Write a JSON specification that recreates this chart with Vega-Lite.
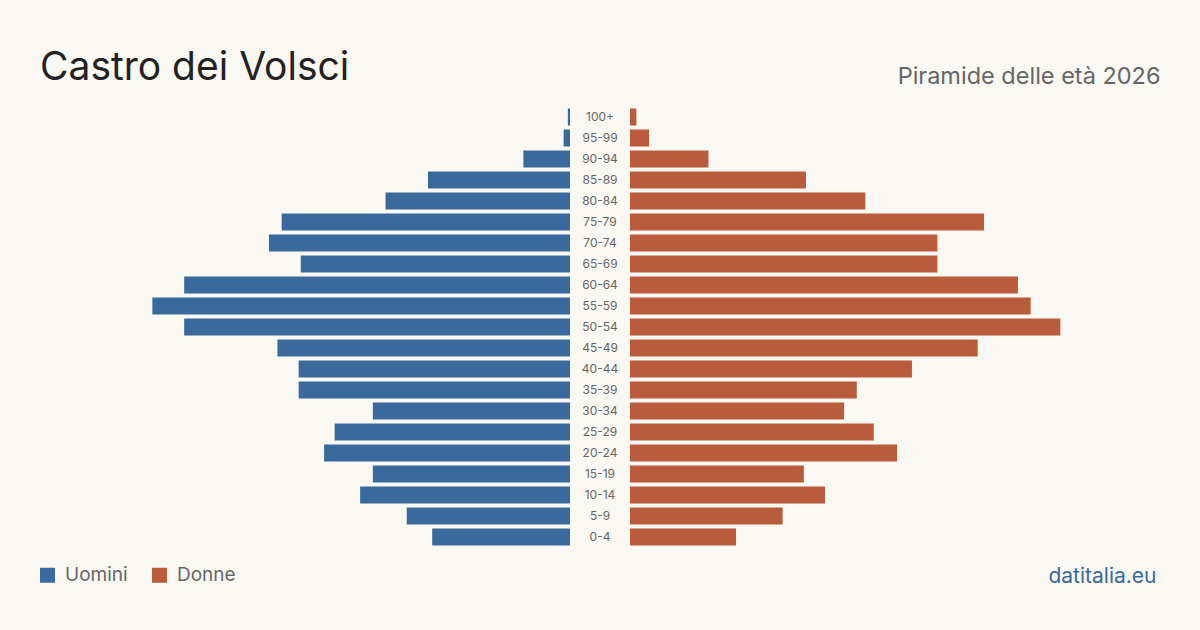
{
  "$schema": "https://vega.github.io/schema/vega-lite/v6.json",
  "width": 1120,
  "height": 441,
  "autosize": {"type": "none"},
  "padding": {"left": 40, "right": 40, "top": 106.5, "bottom": 82.5},
  "background": "#faf8f3",
  "title": {
    "text": "Castro dei Volsci",
    "anchor": "start",
    "frame": "group",
    "fontSize": 39,
    "fontWeight": "normal",
    "color": "#222222",
    "font": "Inter",
    "offset": 0,
    "dy": 23
  },
  "data": {
    "values": [
      {"eta": "100+", "sesso": "Uomini", "n": 1},
      {"eta": "95-99", "sesso": "Uomini", "n": 3},
      {"eta": "90-94", "sesso": "Uomini", "n": 22},
      {"eta": "85-89", "sesso": "Uomini", "n": 67},
      {"eta": "80-84", "sesso": "Uomini", "n": 87},
      {"eta": "75-79", "sesso": "Uomini", "n": 136},
      {"eta": "70-74", "sesso": "Uomini", "n": 142},
      {"eta": "65-69", "sesso": "Uomini", "n": 127},
      {"eta": "60-64", "sesso": "Uomini", "n": 182},
      {"eta": "55-59", "sesso": "Uomini", "n": 197},
      {"eta": "50-54", "sesso": "Uomini", "n": 182},
      {"eta": "45-49", "sesso": "Uomini", "n": 138},
      {"eta": "40-44", "sesso": "Uomini", "n": 128},
      {"eta": "35-39", "sesso": "Uomini", "n": 128},
      {"eta": "30-34", "sesso": "Uomini", "n": 93},
      {"eta": "25-29", "sesso": "Uomini", "n": 111},
      {"eta": "20-24", "sesso": "Uomini", "n": 116},
      {"eta": "15-19", "sesso": "Uomini", "n": 93},
      {"eta": "10-14", "sesso": "Uomini", "n": 99},
      {"eta": "5-9", "sesso": "Uomini", "n": 77},
      {"eta": "0-4", "sesso": "Uomini", "n": 65},
      {"eta": "100+", "sesso": "Donne", "n": 3},
      {"eta": "95-99", "sesso": "Donne", "n": 9},
      {"eta": "90-94", "sesso": "Donne", "n": 37},
      {"eta": "85-89", "sesso": "Donne", "n": 83},
      {"eta": "80-84", "sesso": "Donne", "n": 111},
      {"eta": "75-79", "sesso": "Donne", "n": 167},
      {"eta": "70-74", "sesso": "Donne", "n": 145},
      {"eta": "65-69", "sesso": "Donne", "n": 145},
      {"eta": "60-64", "sesso": "Donne", "n": 183},
      {"eta": "55-59", "sesso": "Donne", "n": 189},
      {"eta": "50-54", "sesso": "Donne", "n": 203},
      {"eta": "45-49", "sesso": "Donne", "n": 164},
      {"eta": "40-44", "sesso": "Donne", "n": 133},
      {"eta": "35-39", "sesso": "Donne", "n": 107},
      {"eta": "30-34", "sesso": "Donne", "n": 101},
      {"eta": "25-29", "sesso": "Donne", "n": 115},
      {"eta": "20-24", "sesso": "Donne", "n": 126},
      {"eta": "15-19", "sesso": "Donne", "n": 82},
      {"eta": "10-14", "sesso": "Donne", "n": 92},
      {"eta": "5-9", "sesso": "Donne", "n": 72},
      {"eta": "0-4", "sesso": "Donne", "n": 50}
    ]
  },
  "encoding": {
    "y": {
      "field": "eta",
      "type": "nominal",
      "sort": ["100+", "95-99", "90-94", "85-89", "80-84", "75-79", "70-74", "65-69", "60-64", "55-59", "50-54", "45-49", "40-44", "35-39", "30-34", "25-29", "20-24", "15-19", "10-14", "5-9", "0-4"],
      "scale": {"paddingInner": 0.19, "paddingOuter": 0.095},
      "axis": null
    }
  },
  "layer": [
    {
      "transform": [{"filter": "datum.sesso === 'Uomini'"}],
      "mark": {"type": "bar"},
      "encoding": {
        "x": {
          "field": "n",
          "type": "quantitative",
          "scale": {"domain": [-278.3, 250], "reverse": true, "nice": false, "zero": false},
          "axis": {
            "orient": "bottom",
            "title": "datitalia.eu",
            "titleAnchor": "start",
            "titleAlign": "right",
            "titleColor": "#3a6a9c",
            "titleFontSize": 21,
            "titleFontWeight": "normal",
            "titleFont": "Inter",
            "titlePadding": 18,
            "titleX": 1116,
            "labels": false,
            "ticks": false,
            "domain": false,
            "grid": false
          }
        },
        "x2": {"datum": 0},
        "color": {
          "field": "sesso",
          "type": "nominal",
          "scale": {"domain": ["Uomini", "Donne"], "range": ["#3a6a9b", "#b95c3b"]},
          "legend": {
            "orient": "none",
            "legendX": -2,
            "legendY": 459,
            "direction": "horizontal",
            "title": null,
            "symbolType": "square",
            "symbolSize": 225,
            "symbolStrokeWidth": 0,
            "symbolOpacity": 1,
            "labelFontSize": 19,
            "labelColor": "#666666",
            "labelFont": "Inter",
            "labelOffset": 8,
            "columnPadding": 22
          }
        }
      }
    },
    {
      "transform": [{"filter": "datum.sesso === 'Donne'"}],
      "mark": {"type": "bar"},
      "encoding": {
        "x": {
          "field": "n",
          "type": "quantitative",
          "scale": {"domain": [-278.3, 250], "nice": false, "zero": false},
          "axis": {
            "orient": "top",
            "title": "Piramide delle età 2026",
            "titleAnchor": "end",
            "titleAlign": "right",
            "titleColor": "#666666",
            "titleFontSize": 23.5,
            "titleFontWeight": "normal",
            "titleFont": "Inter",
            "titlePadding": 18,
            "labels": false,
            "ticks": false,
            "domain": false,
            "grid": false
          }
        },
        "x2": {"datum": 0},
        "color": {"field": "sesso", "type": "nominal"}
      }
    },
    {
      "transform": [{"filter": "datum.sesso === 'Uomini'"}],
      "mark": {"type": "text", "fontSize": 12, "color": "#666666", "font": "Inter", "align": "center", "baseline": "middle"},
      "encoding": {
        "x": {"datum": 0.5, "type": "quantitative", "scale": {"domain": [0, 1]}, "axis": null},
        "text": {"field": "eta", "type": "nominal"}
      }
    }
  ],
  "resolve": {"scale": {"x": "independent"}, "axis": {"x": "independent"}},
  "config": {
    "view": {"stroke": null},
    "font": "Inter"
  }
}
